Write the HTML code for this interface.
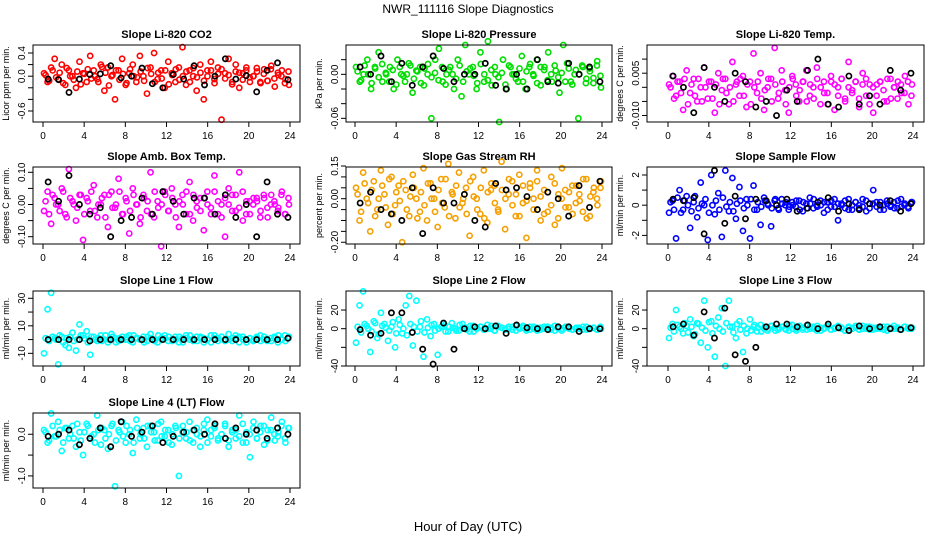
<!DOCTYPE html>
<html><head><meta charset="utf-8"><style>
body{margin:0;background:#fff;}
svg{display:block;font-family:"Liberation Sans",sans-serif;}
</style></head><body>
<svg id="chart" width="936" height="540" viewBox="0 0 936 540">
<rect width="936" height="540" fill="#fff"/>
<text x="468" y="13" text-anchor="middle" font-size="12">NWR_111116  Slope Diagnostics</text>
<text x="468" y="531" text-anchor="middle" font-size="13">Hour of Day (UTC)</text>
</svg>
<script>
const titles=["Slope Li-820 CO2","Slope Li-820 Pressure","Slope Li-820 Temp.","Slope Amb. Box Temp.","Slope Gas Stream RH","Slope Sample Flow","Slope Line 1 Flow","Slope Line 2 Flow","Slope Line 3 Flow","Slope Line 4 (LT) Flow"];
const ylabels=["Licor ppm per min.","kPa per min.","degrees C per min.","degrees C per min.","percent per min.","ml/min per min.","ml/min per min.","ml/min per min.","ml/min per min.","ml/min per min."];
const xTicks=[0,4,8,12,16,20,24];
const yLims=[[-0.79,0.538],[-0.065,0.04],[-0.0123,0.015],[-0.1227,0.1165],[-0.208,0.1455],[-2.57,2.53],[-19.2,35.3],[-40,40.4],[-40,40.4],[-1.29,0.51]];
const yTicks=[[-0.6,-0.4,-0.2,0,0.2,0.4],[-0.06,-0.04,-0.02,0,0.02],[-0.01,-0.005,0,0.005,0.01],[-0.1,-0.05,0,0.05,0.1],[-0.2,-0.15,-0.1,-0.05,0,0.05,0.1,0.15],[-2,-1,0,1,2],[-10,0,10,20,30],[-40,-20,0,20],[-40,-20,0,20],[-1,-0.5,0]];
const yTickLabels=[["-0.6","","","0.0","","0.4"],["-0.06","","","0.00",""],["-0.010","","","0.005",""],["-0.10","","0.00","","0.10"],["-0.20","","","","0.00","","","0.15"],["-2","","0","","2"],["-10","","10","","30"],["-40","","0","20"],["-40","","0","20"],["-1.0","","0.0"]];
const colors=["#ff0000","#00dd00","#ff00ff","#ff00ff","#f5a000","#0000ff","#00ffff","#00ffff","#00ffff","#00ffff"];
const co2=[0.05,-0.1,0.15,0.3,-0.05,0.2,-0.15,0.1,0,-0.2,0.25,0.05,-0.1,0.35,0.1,-0.05,0.2,-0.25,0.15,0,-0.4,0.1,0.3,-0.15,0.05,0.2,-0.1,0.35,0,-0.3,0.15,0.4,-0.05,0.1,-0.2,0.25,0.05,-0.1,0.15,0.5,-0.15,0.1,0,-0.25,0.2,-0.4,0.1,0.25,-0.05,0.15,-0.75,0.05,0.3,-0.1,0.2,-0.2,0.05,0.15,-0.1,0,0.08,-0.12,0.12,-0.08,0.18,-0.18,0.02,0.1,-0.05,-0.15];
const co2C=[0.02,-0.08,0.1,-0.02,0.06,-0.12,0.14,0.0,-0.06,0.08,-0.14,0.04,0.12,-0.04,0.0,-0.1,0.16,0.06,-0.16,0.02,0.1,-0.06,0.04,-0.12,0.12,0.0,-0.02,0.08,-0.08,0.14,0.04,-0.1,0.06,-0.04,0.1,-0.14,0.02,0.12,-0.06,0.0,0.08,-0.1,0.14,-0.02,0.06,-0.08,0.0,0.1,-0.12,0.04,0.12,-0.04,0.02,-0.14,0.08,0.06,-0.06,0.1,-0.02,0.0,0.14,-0.1,0.04,-0.08,0.12,-0.04,0.06,0.0,-0.12,0.08];
const co2K=[-0.05,-0.06,-0.28,-0.05,0.03,0.04,0.18,-0.03,0.0,0.14,-0.13,-0.2,0.03,-0.05,0.18,-0.15,0.0,0.3,-0.05,0.01,-0.27,0.1,0.23,-0.06];
const pres=[0.01,-0.01,0.0,0.02,-0.02,0.01,0.03,-0.01,0.0,0.01,-0.02,0.02,0.0,-0.01,0.015,-0.025,0.005,0.01,-0.015,0.0,-0.06,0.02,0.035,-0.01,0.0,0.01,-0.02,0.02,-0.03,0.04,0.0,0.01,-0.02,0.03,-0.01,0.045,-0.015,0.0,-0.065,0.02,-0.02,0.01,0.0,-0.01,0.025,-0.02,0.01,0.0,0.02,-0.015,0.01,0.03,-0.01,0.005,-0.025,0.04,0.015,-0.01,0.0,-0.06,0.012,-0.012,0.008,-0.005,0.018,-0.018];
const presC=[0.004,-0.008,0.012,0.0,-0.012,0.008,-0.004,0.014,0.002,-0.01,0.006,-0.014,0.01,-0.002,0.0,0.012,-0.006,0.004,-0.012,0.008,0.014,-0.004,0.002,-0.008,0.01,-0.014,0.006,0.0,-0.006,0.012,-0.01,0.004,0.008,-0.002,-0.012,0.014,0.0,-0.008,0.006,0.01,-0.004,0.002,-0.014,0.012,0.0,-0.006,0.008,-0.01,0.004,0.014,-0.002,-0.012,0.01,0.006,-0.008,0.0,0.012,-0.004,0.002,-0.01,0.008,-0.014,0.006,0.0,0.01,-0.006,0.004,-0.012,0.012,-0.002];
const presK=[0.01,0.0,0.025,-0.01,0.015,-0.015,0.01,0.025,0.008,-0.01,0.0,0.0,0.015,-0.015,-0.02,0.0,-0.02,0.02,-0.01,-0.012,0.015,0.0,0.01,-0.01];
const temp=[0.001,0.004,-0.003,0.002,-0.008,0.006,-0.002,0.003,-0.005,0.0,0.007,-0.004,0.002,-0.009,0.005,-0.001,0.003,-0.006,0.009,0.001,-0.003,0.004,-0.007,0.002,0.012,-0.002,0.005,-0.008,0.0,0.003,0.014,-0.004,0.006,-0.001,-0.009,0.004,0.001,-0.005,0.002,0.006,-0.003,0.0,0.007,-0.006,0.002,-0.002,0.004,-0.008,0.0,0.003,-0.004,0.009,-0.001,0.002,-0.007,0.005,-0.003,0.001,-0.009,0.001,0.002,-0.005,0.003,-0.004,0.0,0.002,-0.002,0.004,-0.006,0.001];
const tempC=[0.0,-0.004,0.002,-0.002,0.003,-0.006,0.001,-0.003,0.003,-0.005,0.0,0.002,-0.004,0.001,-0.006,0.003,-0.002,0.0,-0.005,0.002,0.003,-0.003,0.001,-0.006,0.0,0.002,-0.004,-0.001,0.003,-0.005,0.001,-0.002,0.002,-0.006,0.0,0.003,-0.003,-0.001,0.002,-0.005,0.001,-0.004,0.003,0.0,-0.002,-0.006,0.002,0.001,-0.003,0.003,-0.005,0.0,-0.002,0.002,-0.004,0.001,0.003,-0.006,0.0,-0.003,0.002,-0.001,-0.005,0.003,0.0,-0.004,0.001,-0.002,0.002,-0.003];
const tempK=[0.004,0.0,-0.009,0.007,0.0,-0.005,0.005,0.002,-0.007,-0.005,-0.01,-0.001,-0.005,0.006,0.01,-0.006,-0.007,0.004,-0.006,-0.003,-0.006,0.006,-0.001,0.005];
const amb=[-0.02,0.04,-0.06,0.02,0.0,0.05,-0.03,0.11,0.01,-0.05,0.03,-0.11,0.02,-0.02,0.06,-0.04,0.0,0.03,-0.07,0.04,-0.01,0.08,-0.03,0.02,-0.09,0.05,0.0,-0.06,0.03,-0.02,0.1,-0.04,0.01,-0.13,0.04,-0.02,0.05,0.0,-0.07,0.03,-0.03,0.07,-0.05,0.01,0.02,-0.08,0.04,-0.01,0.09,-0.03,0.0,-0.1,0.05,-0.02,0.03,0.1,-0.05,0.01,-0.03,0.02,0.01,-0.02,0.02,-0.04,0.03,0.0,-0.01,0.04,-0.03,0.0];
const ambC=[0.01,-0.03,0.03,0.0,-0.02,0.04,-0.04,0.02,0.0,-0.01,0.03,-0.03,0.01,0.04,-0.02,0.0,0.02,-0.04,0.03,-0.01,0.0,0.04,-0.03,0.01,-0.02,0.03,0.0,-0.04,0.02,0.01,-0.03,0.04,-0.01,0.0,0.03,-0.02,0.02,-0.04,0.01,0.0,0.04,-0.03,0.03,-0.01,-0.02,0.02,0.0,-0.03,0.04,0.01,-0.04,0.02,0.0,0.03,-0.02,-0.01,0.04,-0.03,0.01,0.0,0.02,-0.04,0.03,-0.01,0.0,0.01,-0.02,0.03,-0.03,0.02];
const ambK=[0.07,0.01,0.09,0.0,-0.03,-0.01,-0.1,-0.05,-0.04,0.02,-0.03,0.04,0.01,-0.03,0.02,0.02,-0.03,0.03,-0.04,0.0,-0.1,0.07,-0.03,-0.04];
const rh=[0.05,-0.1,0.12,0.0,-0.15,0.08,-0.05,0.13,0.02,-0.12,0.1,-0.03,0.06,-0.2,0.04,-0.08,0.11,0.0,-0.06,0.14,-0.1,0.07,0.0,-0.13,0.09,-0.04,0.16,0.03,-0.09,0.12,-0.02,0.05,-0.17,0.1,0.0,-0.07,0.13,-0.11,0.04,0.06,-0.05,0.17,-0.14,0.02,0.08,-0.08,0.11,-0.02,-0.18,0.07,0.0,0.13,-0.1,0.04,-0.06,0.1,-0.12,0.02,0.14,-0.04,0.03,-0.07,0.06,-0.01,0.09,-0.09,0.01,0.05,-0.03,0.08];
const rhC=[0.02,-0.06,0.07,-0.02,0.04,-0.08,0.0,0.06,-0.04,0.09,-0.07,0.03,-0.01,0.08,-0.05,0.01,0.05,-0.09,0.03,-0.03,0.07,0.0,-0.06,0.04,-0.02,0.09,-0.08,0.02,0.06,-0.04,0.0,-0.07,0.08,0.01,-0.05,0.05,-0.09,0.03,0.07,-0.02,-0.06,0.04,0.0,0.09,-0.03,0.02,-0.08,0.06,-0.01,0.05,-0.05,0.08,0.01,-0.07,0.03,-0.03,0.07,-0.09,0.0,0.04,-0.04,0.06,-0.02,0.02,-0.06,0.09,-0.08,0.03,0.0,0.05];
const rhK=[-0.02,0.03,-0.05,-0.07,-0.1,0.05,-0.16,0.05,-0.02,-0.02,0.02,-0.1,-0.13,0.07,0.04,0.05,0.01,-0.05,0.03,0.0,-0.08,0.06,-0.04,0.08];
const samp=[-0.5,0.3,-2.2,1.0,-0.3,0.6,-1.5,0.2,-0.8,1.5,0.0,-2.3,2.0,-0.6,0.8,-2.1,2.3,-0.4,1.8,-0.9,1.2,-1.7,0.4,-2.2,1.3,-0.3,-1.3,0.5,0.1,-1.4,0.3,-0.2,0.4,0.0,-0.3,0.2,-0.1,0.3,-0.4,0.1,0.5,-0.2,0.0,0.3,-0.5,0.2,-0.1,0.4,-1.0,0.1,0.3,-0.3,0.0,0.2,-0.2,0.4,-0.4,0.1,1.0,-0.1,0.2,-0.3,0.1,0.0,-0.2,0.3,-0.1,0.1,-0.2,0.2];
const sampC=[0.2,-0.3,0.5,-0.5,0.3,0.0,-0.4,0.6,-0.2,0.1,0.4,-0.5,0.0,0.3,-0.3,0.5,-0.1,0.2,-0.4,0.1,0.3,-0.2,0.0,0.4,-0.3,0.2,-0.1,0.3,0.0,-0.2,0.4,-0.3,0.1,0.2,-0.1,0.0,0.3,-0.3,0.2,-0.2,0.1,0.4,-0.1,0.0,0.2,-0.3,0.3,-0.1,0.1,0.0,-0.2,0.4,-0.3,0.2,0.0,-0.1,0.3,-0.2,0.1,0.2,-0.3,0.0,0.3,-0.1,0.2,-0.2,0.4,0.0,-0.1,0.2];
const sampK=[0.4,0.3,0.5,-1.9,2.3,-1.2,0.6,-0.9,0.4,0.3,0.0,0.4,-0.4,-0.2,0.2,0.5,-0.4,0.1,-0.3,0.1,0.0,0.3,-0.4,0.1];
const l1=[-10,22,34,1,-18,2,-4,-6,5,-8,11,3,6,-11,2,-1,3,0,-2,4,1,-1,2,0,3,-2,1,0,2,-1,4,0,-2,1,3,-1,0,2,-2,1,3,0,-1,2,1,-2,0,3,1,-1,2,0,4,-1,1,2,0,-2,1,0,1,-1,2,0,-1,1,3,0,-1,2];
const l1C=[1,-1,2,0,3,-2,1,2,-1,0,3,1,-2,2,0,1,-1,3,0,2,-2,1,0,2,-1,3,1,0,-2,2,1,-1,3,0,1,2,-1,0,2,-2,1,3,0,-1,2,1,0,-2,3,1,2,-1,0,1,3,-2,2,0,1,-1,2,3,0,-1,1,2,-2,0,3,1];
const l1K=[0,0,0,0,-1,0,0,0,0,0,0,0,0,0,0,0,0,0,0,0,0,0,0,1];
const l2=[-15,25,40,3,-25,8,-10,17,5,-13,2,-20,10,-5,25,35,-18,30,2,-30,10,-8,5,-28,2,4,-3,6,0,-2,5,1,-3,3,0,2,-1,4,0,-2,3,1,0,2,-1,3,0,1,-2,2,0,1,-1,2,0,1,-2,1,0,2,0,-1,1,0,2,-1,0,1,-1,0];
const l2C=[2,-4,5,0,-3,6,-6,3,1,-2,7,-5,4,0,-7,5,2,-3,8,-4,1,4,-2,0,3,-3,2,1,-2,4,0,-1,3,-3,1,2,-1,0,3,-2,2,1,-1,0,2,-2,1,3,0,-1,2,-2,1,0,2,-1,3,0,-2,1,2,-1,0,1,-1,2,0,1,-1,2];
const l2K=[-1,-7,-5,17,17,-4,-22,-38,6,-22,0,2,0,3,-5,4,1,0,-1,2,2,-3,0,0];
const l3=[-10,5,20,2,-5,3,10,-8,6,-15,30,-20,8,-30,12,22,-40,30,2,-10,8,-25,-5,10,2,-3,4,0,-2,3,1,-1,2,0,-2,4,0,1,-1,3,0,2,-2,1,0,3,-1,1,2,0,-2,1,0,3,-1,0,2,-1,1,0,1,-1,2,0,0,1,-1,2,0,1];
const l3C=[1,-3,4,0,6,-4,2,-6,5,1,-2,7,-5,3,0,-3,6,2,-4,5,-1,3,0,-2,4,1,-3,2,0,3,-2,1,2,-1,4,0,-2,3,1,-1,2,0,3,-2,1,2,-1,0,3,1,-2,2,0,1,-1,3,0,2,-1,1,0,2,-2,1,3,0,-1,2,1,0];
const l3K=[2,5,-7,18,-10,22,-28,-35,-20,2,5,5,2,4,0,5,1,-2,3,0,2,0,-1,1];
const l4=[0.1,-0.2,0.5,-0.05,0.3,-0.4,0.15,-0.1,0.2,-0.3,0.05,-0.5,0.25,-0.1,0.0,0.45,-0.25,0.1,-0.35,0.2,-1.25,0.1,0.3,-0.2,0.0,-0.45,0.35,-0.1,0.15,-0.3,0.2,0.05,-0.15,0.3,-0.05,0.1,-0.25,0.2,-1.0,0.05,-0.1,0.3,-0.2,0.15,-0.3,0.1,0.35,-0.05,0.2,-0.15,0.0,0.25,-0.3,0.1,-0.1,0.45,-0.2,0.05,-0.55,0.3,-0.1,0.2,-0.25,0.1,0.4,-0.15,0.05,0.3,-0.2,0.15];
const l4C=[0.05,-0.15,0.2,-0.05,0.1,-0.2,0.15,0.0,-0.1,0.25,-0.15,0.05,0.2,-0.05,-0.2,0.1,0.15,-0.1,0.0,0.25,-0.15,0.05,-0.05,0.2,0.1,-0.2,0.15,0.0,-0.1,0.2,0.05,-0.15,0.25,-0.05,0.1,-0.2,0.0,0.15,-0.1,0.2,0.05,-0.15,0.1,0.0,-0.05,0.25,-0.2,0.1,0.15,-0.1,0.0,0.2,-0.15,0.05,0.1,-0.05,0.25,-0.2,0.0,0.15,-0.1,0.05,0.2,-0.15,0.1,0.0,-0.05,0.2,-0.1,0.15];
const l4K=[-0.05,0.0,0.1,-0.25,-0.1,0.15,-0.3,0.3,-0.05,0.05,0.2,-0.2,-0.05,0.05,0.1,0.0,0.25,-0.1,0.15,0.0,0.1,-0.1,0.15,0.0];
const colorVals=[co2,pres,temp,amb,rh,samp,l1,l2,l3,l4];
const coreVals=[co2C,presC,tempC,ambC,rhC,sampC,l1C,l2C,l3C,l4C];
const blackVals=[co2K,presK,tempK,ambK,rhK,sampK,l1K,l2K,l3K,l4K];

const NS="http://www.w3.org/2000/svg";
const svg=document.getElementById('chart');
const cols=[{l:33,r:300,x0:43,x24:290},{l:346,r:612,x0:355,x24:602},{l:647,r:924,x0:668,x24:913}];
const rows=[{t:45,b:122},{t:167,b:244},{t:291,b:366},{t:413,b:488}];
function mk(tag,attrs,parent){const e=document.createElementNS(NS,tag);for(const k in attrs)e.setAttribute(k,attrs[k]);parent.appendChild(e);return e;}
titles.forEach((title,p)=>{
  const c=cols[p%3],r=rows[Math.floor(p/3)];
  const g=mk('g',{},svg);
  
  
  const xs=h=>c.x0+(c.x24-c.x0)*h/24;
  const [ymin,ymax]=yLims[p];
  const ys=v=>r.b-(v-ymin)/(ymax-ymin)*(r.b-r.t);
  const tt=mk('text',{x:(c.l+c.r)/2,y:r.t-7,'text-anchor':'middle','font-size':'11','font-weight':'bold'},g);
  tt.textContent=title;
  
  
  const cv=colorVals[p];
  cv.forEach((v,i)=>{
    const pt=mk('circle',{cx:xs(0.1+i*23.8/(cv.length-1)),cy:ys(v),r:2.6,fill:'none',stroke:colors[p],'stroke-width':1.6},g);
    
    
  });
  const cc=coreVals[p];
  cc.forEach((v,i)=>{
    const pt=mk('circle',{cx:xs(0.25+i*23.6/(cc.length-1)),cy:ys(v),r:2.6,fill:'none',stroke:colors[p],'stroke-width':1.6},g);
    
    
  });
  const bv=blackVals[p];
  bv.forEach((v,i)=>{
    const pt=mk('circle',{cx:xs(0.5+i*23.3/(bv.length-1)),cy:ys(v),r:2.6,fill:'none',stroke:'#000','stroke-width':1.7},g);
    
    
  });
  const box=mk('rect',{x:c.l,y:r.t,width:c.r-c.l,height:r.b-r.t,fill:'none',stroke:'#000','stroke-width':1},g);
  
  
  xTicks.forEach(h=>{
    mk('line',{x1:xs(h),x2:xs(h),y1:r.b,y2:r.b+5,stroke:'#000'},g);
    const t=mk('text',{x:xs(h),y:r.b+17,'text-anchor':'middle','font-size':'10'},g);
    t.textContent=h;
    
    
  });
  yTicks[p].forEach((v,i)=>{
    const y=ys(v);
    mk('line',{x1:c.l,x2:c.l-5,y1:y,y2:y,stroke:'#000'},g);
    const lab=yTickLabels[p][i];
    if(lab){
      const t=mk('text',{x:c.l-8,y:y,'text-anchor':'middle','font-size':'10',transform:`rotate(-90 ${c.l-8} ${y})`},g);
      t.textContent=lab;
      
      
    }
  });
  const yl=mk('text',{x:c.l-24,y:(r.t+r.b)/2,'text-anchor':'middle','font-size':'9',transform:`rotate(-90 ${c.l-24} ${(r.t+r.b)/2})`},g);
  yl.textContent=ylabels[p];
  
  
});
</script>
</body></html>
